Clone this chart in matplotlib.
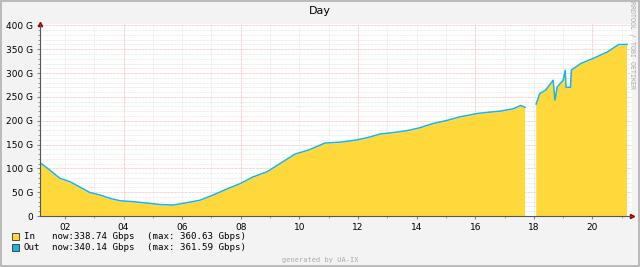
import numpy as np
import matplotlib.pyplot as plt
from matplotlib.ticker import MultipleLocator, FuncFormatter

# hours of the day, gap shown as nan
hours = [1.15, 1.49, 1.83, 2.17, 2.5, 2.86, 3.2, 3.54, 3.88, 4.33, 4.8, 5.25, 5.7,
         6.17, 6.6, 7.06, 7.5, 7.98, 8.42, 8.9, 9.34, 9.85, 10.3, 10.87, 11.4, 11.9,
         12.3, 12.75, 13.2, 13.67, 14.1, 14.56, 15.0, 15.48, 16.06, 16.5, 16.85,
         17.3, 17.55, 17.7, 17.72,
         18.06, 18.08, 18.2, 18.4, 18.66, 18.72, 18.8, 19.0, 19.07, 19.1, 19.25,
         19.28, 19.6, 20.0, 20.5, 20.9, 21.18]
out_g = [112, 96, 79, 72, 61, 49, 44, 37, 32, 30, 27, 24, 23,
         28, 33, 44, 56, 68, 82, 93, 110, 130, 138, 153, 155, 159,
         164, 172, 175, 179, 185, 194, 200, 208, 215, 218, 220,
         225, 232, 228, np.nan,
         np.nan, 235, 257, 264, 285, 243, 271, 285, 306, 270, 270,
         306, 320, 330, 344, 360, 360]
in_g = [110, 94, 77, 70, 59, 47, 42, 35, 30, 28, 25, 22, 21,
        26, 31, 42, 54, 66, 80, 91, 108, 128, 136, 151, 153, 157,
        162, 170, 173, 177, 183, 192, 198, 206, 213, 216, 218,
        223, 230, 226, np.nan,
        np.nan, 233, 255, 262, 283, 241, 269, 283, 304, 268, 268,
        304, 318, 328, 342, 358, 358]

xticks = [2, 4, 6, 8, 10, 12, 14, 16, 18, 20]

fig = plt.figure(figsize=(6.4, 2.67), dpi=100, facecolor='#f3f3f3')
ax = fig.add_axes([40/640, 51/267, 592/640, 192.5/267])
ax.set_facecolor('white')

x = np.array(hours)
ax.fill_between(x, 0, np.array(in_g), color='#ffd93b', linewidth=0)
ax.plot(x, out_g, color='#1ab4e6', lw=1.1)

ax.set_xlim(1.15, 21.35)
ax.set_ylim(0, 404)

ax.set_xticks(xticks)
ax.set_xticklabels(['%02d' % h for h in xticks])
ax.xaxis.set_minor_locator(MultipleLocator(1))
ax.yaxis.set_major_locator(MultipleLocator(50))
ax.yaxis.set_minor_locator(MultipleLocator(10))
ax.yaxis.set_major_formatter(FuncFormatter(lambda v, p: '0' if v == 0 else '%d G' % v))

# grids: red major, gray minor
for v in range(50, 401, 50):
    ax.axhline(v, color='#f2a0a0', lw=0.5, ls=(0, (1, 1)), zorder=0.5)
for v in range(10, 401, 10):
    if v % 50:
        ax.axhline(v, color='#dddddd', lw=0.5, ls=(0, (1, 1)), zorder=0.4)
for h in range(2, 22):
    c = '#f2a0a0' if h % 4 == 0 else '#dddddd'
    ax.axvline(h, color=c, lw=0.5, ls=(0, (1, 1)), zorder=0.5)

for s in ['top', 'right']:
    ax.spines[s].set_visible(False)
for s in ['left', 'bottom']:
    ax.spines[s].set_color('#555555')
    ax.spines[s].set_linewidth(0.8)
ax.tick_params(which='both', length=2, color='#888888', labelsize=6.5, pad=3)
ax.tick_params(which='minor', length=1.5)
ax.plot(1, 0, '>', color='#990000', ms=3, transform=ax.transAxes, clip_on=False)
ax.plot(0, 1, '^', color='#990000', ms=3, transform=ax.transAxes, clip_on=False)

fig.text(0.5, 0.96, 'Day', ha='center', va='center', fontsize=8)
fig.text(0.988, 0.83, 'RRDTOOL / TOBI OETIKER', rotation=270, ha='center', va='center',
         fontsize=4.8, color='#aaaaaa', family='DejaVu Sans Mono')
fig.text(0.5, 0.025, 'generated by UA-IX', ha='center', va='center', fontsize=5,
         color='#aaaaaa', family='DejaVu Sans Mono')

legend_rows = [('#ffd93b', 'In ', 'now:338.74 Gbps', '(max: 360.63 Gbps)', 236.5),
               ('#1ab4e6', 'Out', 'now:340.14 Gbps', '(max: 361.59 Gbps)', 247.5)]
for col, name, now, mx, ypx in legend_rows:
    yf = 1 - ypx/267
    fig.patches.append(plt.Rectangle((12/640, yf - 3.5/267), 7/640, 7/267,
                                     transform=fig.transFigure, facecolor=col,
                                     edgecolor='#333333', lw=0.6))
    fig.text(24/640, yf, name, va='center', fontsize=6.6, family='DejaVu Sans Mono')
    fig.text(52/640, yf, now, va='center', fontsize=6.6, family='DejaVu Sans Mono')
    fig.text(147/640, yf, mx, va='center', fontsize=6.6, family='DejaVu Sans Mono')

fig.patches.append(plt.Rectangle((0.001, 0.002), 0.997, 0.995, transform=fig.transFigure,
                                 fill=False, edgecolor='#b0b0b0', lw=1.2))

fig.savefig('out.png', dpi=100, facecolor=fig.get_facecolor())
